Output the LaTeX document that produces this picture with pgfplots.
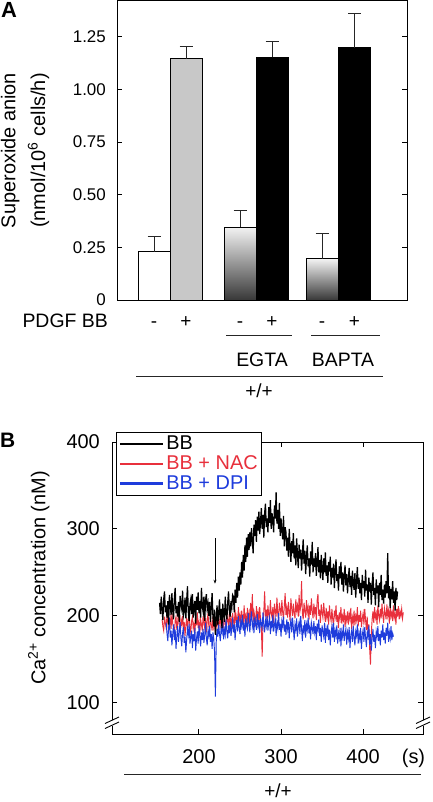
\documentclass[border=0pt]{standalone}
\usepackage{fontspec}
\setmainfont{Liberation Sans}
\usepackage{pgfplots}
\pgfplotsset{compat=1.18}
\usetikzlibrary{arrows.meta}
\definecolor{nacred}{HTML}{E8303C}
\definecolor{dpiblue}{HTML}{1E3CDC}
\definecolor{bargray}{HTML}{C8C8C8}
\begin{document}
\begin{tikzpicture}[x=1bp,y=1bp]
\useasboundingbox (0,0) rectangle (432,-802);
% ---------------- Panel A ----------------
\begin{axis}[
  at={(117bp,-300bp)}, anchor=south west, scale only axis,
  width=290bp, height=299bp,
  xmin=0, xmax=290, ymin=0, ymax=1.42,
  axis line style={line width=1bp},
  ytick={0,0.25,0.5,0.75,1,1.25},
  yticklabels={0,0.25,0.50,0.75,1.00,1.25},
  yticklabel style={font=\fontsize{17}{17}\selectfont, inner sep=0pt, xshift=-11bp},
  major tick length=5bp,
  ytick style={line width=1bp, black},
  xtick={37,69,123,155,205,237.5},
  xticklabels={-,+,-,+,-,+},
  xtick style={draw=none},
  xticklabel style={font=\fontsize{19}{19}\selectfont, anchor=base, yshift=-27bp},
  ylabel={Superoxide anion\\(nmol/10\textsuperscript{6} cells/h)},
  ylabel style={at={(axis description cs:-0.317,0.5)}, anchor=center, align=center, font=\fontsize{20}{30}\selectfont},
  error bars/error bar style={line width=1bp, black!85},
  error bars/error mark options={rotate=90, line width=1bp, black!85, mark size=6.5bp},
]
\addplot[ybar, bar width=32, bar shift=0pt, draw=black, line width=1bp, fill=white,
  error bars/.cd, y dir=plus, y explicit] coordinates {(37,0.23) +- (0,0.07)};
\addplot[ybar, bar width=32, bar shift=0pt, draw=black, line width=1bp, fill=bargray,
  error bars/.cd, y dir=plus, y explicit] coordinates {(69,1.145) +- (0,0.06)};
\addplot[ybar, bar width=32, bar shift=0pt, draw=black, line width=1bp, top color=black!5, bottom color=black!78,
  error bars/.cd, y dir=plus, y explicit] coordinates {(123,0.345) +- (0,0.08)};
\addplot[ybar, bar width=32, bar shift=0pt, draw=black, line width=1bp, fill=black,
  error bars/.cd, y dir=plus, y explicit] coordinates {(155,1.152) +- (0,0.077)};
\addplot[ybar, bar width=32, bar shift=0pt, draw=black, line width=1bp, top color=black!5, bottom color=black!78,
  error bars/.cd, y dir=plus, y explicit] coordinates {(205,0.195) +- (0,0.122)};
\addplot[ybar, bar width=32, bar shift=0pt, draw=black, line width=1bp, fill=black,
  error bars/.cd, y dir=plus, y explicit] coordinates {(237.5,1.197) +- (0,0.163)};
\end{axis}
\node[anchor=base west, font=\bfseries\fontsize{22}{22}\selectfont, inner sep=0pt] at (1,-18) {A};
\node[anchor=base east, font=\fontsize{19.5}{20}\selectfont, inner sep=0pt] at (108,-327) {PDGF BB};
\draw[line width=0.8bp, black!85] (226,-335) -- (292,-335);
\draw[line width=0.8bp, black!85] (311,-335) -- (380,-335);
\node[anchor=base, font=\fontsize{19.5}{20}\selectfont, inner sep=0pt] at (262,-366) {EGTA};
\node[anchor=base, font=\fontsize{19.5}{20}\selectfont, inner sep=0pt] at (343,-366) {BAPTA};
\draw[line width=0.8bp, black!85] (136,-376) -- (383,-376);
\node[anchor=base, font=\fontsize{19}{20}\selectfont, inner sep=0pt] at (259,-397) {+/+};
% ---------------- Panel B ----------------
\begin{axis}[
  at={(112bp,-734bp)}, anchor=south west, scale only axis,
  width=311bp, height=292bp,
  xmin=94, xmax=473, ymin=64, ymax=400,
  axis line style={line width=1bp},
  ytick={100,200,300,400}, xtick={200,300,400},
  /pgf/number format/assume math mode=true,
  ticklabel style={font=\fontsize{20}{20}\selectfont},
  yticklabel style={inner sep=0pt, xshift=-12bp},
  xticklabel style={anchor=base, yshift=-29bp},
  major tick length=5bp,
  tick style={line width=1bp, black},
  ylabel={Ca\textsuperscript{2+} concentration (nM)},
  ylabel style={at={(axis description cs:-0.235,0.534)}, anchor=center, font=\fontsize{20}{20}\selectfont},
  legend style={at={(axis description cs:0.013,1.034)}, anchor=north west, draw=black, line width=1bp,
    font=\fontsize{20}{20}\selectfont, inner xsep=2bp, inner ysep=1.5bp,
    nodes={inner ysep=1.2bp, text height=14bp, text depth=3.5bp},
    cells={anchor=west}},
  legend image code/.code={\draw[#1, line width=2.8bp] (0bp,0bp) -- (43bp,0bp);},
]
\addlegendimage{black}
\addlegendentry{BB}
\addlegendimage{nacred}
\addlegendentry{\textcolor{nacred}{BB + NAC}}
\addlegendimage{dpiblue}
\addlegendentry{\textcolor{dpiblue}{BB + DPI}}
% BB + NAC
\addplot[nacred, line width=0.95bp, forget plot] coordinates {
(155,196)(156,188)(157,183)(158,199)(159,192)(160,186)(161,201)(162,194)(163,180)(164,190)
(165,197)(166,185)(167,203)(168,191)(169,187)(170,178)(171,195)(172,199)(173,184)(174,192)
(175,206)(176,188)(177,181)(178,196)(179,190)(180,200)(181,186)(182,193)(183,177)(184,189)
(185,198)(186,184)(187,195)(188,202)(189,187)(190,181)(191,194)(192,199)(193,185)(194,191)
(195,180)(196,197)(197,189)(198,204)(199,186)(200,193)(201,179)(202,196)(203,190)(204,183)
(205,200)(206,192)(207,186)(208,198)(209,181)(210,194)(211,203)(212,188)(213,184)(214,197)
(215,190)(216,183)(217,199)(218,187)(219,194)(220,180)(221,196)(222,189)(223,201)(224,185)
(225,193)(226,198)(227,184)(228,205)(229,191)(230,187)(231,199)(232,193)(233,182)(234,201)
(235,195)(236,188)(237,204)(238,191)(239,197)(240,186)(241,203)(242,194)(243,189)(244,207)
(245,192)(246,199)(247,186)(248,210)(249,195)(250,201)(251,188)(252,206)(253,197)(254,191)
(255,212)(256,194)(257,200)(258,187)(259,209)(260,196)(261,203)(262,190)(263,215)(264,198)
(265,225)(266,193)(267,205)(268,199)(269,188)(270,211)(271,197)(272,204)(273,192)(274,210)
(275,196)(276,188)(277,153)(278,192)(279,205)(280,228)(281,199)(282,207)(283,194)(284,212)
(285,201)(286,196)(287,218)(288,203)(289,198)(290,210)(291,192)(292,214)(293,205)(294,199)
(295,221)(296,202)(297,196)(298,215)(299,207)(300,200)(301,218)(302,204)(303,196)(304,212)
(305,226)(306,201)(307,209)(308,198)(309,216)(310,205)(311,194)(312,220)(313,208)(314,200)
(315,214)(316,203)(317,197)(318,219)(319,206)(320,212)(321,199)(322,224)(323,205)(324,211)
(325,240)(326,203)(327,196)(328,215)(329,206)(330,198)(331,218)(332,204)(333,210)(334,195)
(335,212)(336,201)(337,220)(338,206)(339,197)(340,214)(341,203)(342,210)(343,195)(344,218)
(345,225)(346,200)(347,207)(348,192)(349,213)(350,204)(351,198)(352,215)(353,202)(354,193)
(355,209)(356,198)(357,205)(358,190)(359,212)(360,200)(361,194)(362,208)(363,196)(364,189)
(365,206)(366,199)(367,212)(368,193)(369,201)(370,186)(371,204)(372,197)(373,210)(374,191)
(375,200)(376,195)(377,208)(378,187)(379,199)(380,194)(381,205)(382,190)(383,202)(384,196)
(385,209)(386,185)(387,198)(388,192)(389,206)(390,189)(391,200)(392,195)(393,210)(394,188)
(395,201)(396,193)(397,206)(398,187)(399,197)(400,203)(401,190)(402,208)(403,195)(404,184)
(405,199)(406,176)(407,190)(408,162)(409,144)(410,180)(411,196)(412,205)(413,192)(414,210)
(415,198)(416,203)(417,190)(418,212)(419,200)(420,195)(421,208)(422,197)(423,214)(424,201)
(425,192)(426,209)(427,203)(428,196)(429,213)(430,200)(431,206)(432,191)(433,210)(434,199)
(435,204)(436,194)(437,212)(438,198)(439,203)(440,190)(441,208)(442,199)(443,211)(444,196)
(445,205)(446,200)(447,208)(448,197)(449,204)};
% BB + DPI
\addplot[dpiblue, line width=0.95bp, forget plot] coordinates {
(160,192)(161,180)(162,171)(163,186)(164,198)(165,175)(166,183)(167,166)(168,179)(169,190)
(170,172)(171,184)(172,162)(173,177)(174,188)(175,170)(176,181)(177,193)(178,174)(179,165)
(180,180)(181,187)(182,169)(183,176)(184,158)(185,173)(186,185)(187,178)(188,191)(189,168)
(190,175)(191,183)(192,163)(193,179)(194,171)(195,186)(196,160)(197,174)(198,182)(199,168)
(200,189)(201,177)(202,165)(203,181)(204,172)(205,185)(206,169)(207,178)(208,192)(209,174)
(210,166)(211,183)(212,177)(213,188)(214,170)(215,179)(216,162)(217,181)(218,174)(219,158)
(220,107)(221,170)(222,185)(223,176)(224,190)(225,179)(226,171)(227,186)(228,181)(229,194)
(230,173)(231,184)(232,178)(233,196)(234,182)(235,174)(236,189)(237,180)(238,193)(239,177)
(240,185)(241,198)(242,181)(243,190)(244,172)(245,187)(246,195)(247,182)(248,200)(249,186)
(250,179)(251,194)(252,188)(253,201)(254,183)(255,192)(256,176)(257,197)(258,189)(259,185)
(260,203)(261,190)(262,181)(263,196)(264,205)(265,187)(266,193)(267,180)(268,199)(269,191)
(270,184)(271,202)(272,188)(273,195)(274,180)(275,197)(276,190)(277,186)(278,204)(279,189)
(280,181)(281,195)(282,188)(283,200)(284,183)(285,192)(286,198)(287,179)(288,194)(289,187)
(290,201)(291,182)(292,190)(293,196)(294,177)(295,192)(296,186)(297,203)(298,184)(299,191)
(300,176)(301,194)(302,188)(303,199)(304,182)(305,190)(306,178)(307,196)(308,185)(309,193)
(310,174)(311,189)(312,195)(313,181)(314,198)(315,186)(316,172)(317,190)(318,184)(319,197)
(320,176)(321,188)(322,193)(323,179)(324,200)(325,185)(326,171)(327,189)(328,182)(329,195)
(330,175)(331,190)(332,184)(333,198)(334,180)(335,187)(336,173)(337,192)(338,186)(339,179)
(340,194)(341,181)(342,188)(343,172)(344,191)(345,184)(346,196)(347,177)(348,186)(349,170)
(350,189)(351,182)(352,176)(353,192)(354,169)(355,185)(356,179)(357,190)(358,172)(359,184)
(360,166)(361,181)(362,188)(363,175)(364,192)(365,170)(366,183)(367,177)(368,189)(369,168)
(370,180)(371,174)(372,186)(373,165)(374,182)(375,176)(376,190)(377,171)(378,179)(379,185)
(380,167)(381,181)(382,174)(383,187)(384,163)(385,178)(386,183)(387,170)(388,188)(389,175)
(390,166)(391,182)(392,177)(393,190)(394,168)(395,180)(396,173)(397,186)(398,162)(399,178)
(400,184)(401,170)(402,187)(403,175)(404,164)(405,181)(406,176)(407,189)(408,167)(409,179)
(410,160)(411,174)(412,185)(413,170)(414,178)(415,163)(416,182)(417,176)(418,188)(419,171)
(420,179)(421,166)(422,183)(423,175)(424,190)(425,172)(426,181)(427,168)(428,186)(429,177)
(430,192)(431,170)(432,181)(433,174)(434,188)(435,172)(436,180)(437,176)};
% BB
\addplot[black, line width=1.25bp, forget plot] coordinates {
(152,215)(153,202)(154,222)(155,207)(156,195)(157,219)(158,228)(159,204)(160,212)(161,198)
(162,217)(163,190)(164,224)(165,213)(166,201)(167,226)(168,206)(169,196)(170,220)(171,232)
(172,203)(173,211)(174,199)(175,216)(176,193)(177,223)(178,214)(179,208)(180,229)(181,200)
(182,205)(183,221)(184,197)(185,218)(186,234)(187,204)(188,194)(189,213)(190,219)(191,202)
(192,225)(193,198)(194,211)(195,217)(196,191)(197,222)(198,207)(199,227)(200,203)(201,217)
(202,198)(203,232)(204,211)(205,205)(206,222)(207,194)(208,218)(209,225)(210,208)(211,214)
(212,200)(213,216)(214,193)(215,210)(216,226)(217,199)(218,188)(219,207)(220,178)(221,196)
(222,212)(223,190)(224,203)(225,219)(226,195)(227,208)(228,186)(229,214)(230,201)(231,193)
(232,222)(233,204)(234,196)(235,215)(236,228)(237,206)(238,199)(239,217)(240,210)(241,224)
(242,222)(243,204)(244,230)(245,215)(246,238)(247,221)(248,245)(249,229)(250,250)(251,236)
(252,262)(253,244)(254,270)(255,252)(256,281)(257,262)(258,290)(259,268)(260,294)(261,276)
(262,296)(263,280)(264,301)(265,288)(266,272)(267,305)(268,292)(269,310)(270,285)(271,314)
(272,298)(273,320)(274,294)(275,308)(276,324)(277,300)(278,316)(279,290)(280,318)(281,329)
(282,302)(283,312)(284,296)(285,325)(286,307)(287,333)(288,300)(289,318)(290,310)(291,296)
(292,327)(293,312)(294,342)(295,306)(296,322)(297,300)(298,330)(299,292)(300,312)(301,298)
(302,288)(303,315)(304,280)(305,302)(306,296)(307,275)(308,290)(309,268)(310,300)(311,279)
(312,262)(313,286)(314,272)(315,295)(316,266)(317,281)(318,258)(319,289)(320,270)(321,255)
(322,282)(323,266)(324,276)(325,252)(326,271)(327,288)(328,260)(329,275)(330,248)(331,268)
(332,281)(333,257)(334,266)(335,245)(336,274)(337,259)(338,285)(339,250)(340,266)(341,256)
(342,272)(343,246)(344,262)(345,279)(346,250)(347,264)(348,243)(349,270)(350,255)(351,241)
(352,266)(353,250)(354,273)(355,246)(356,258)(357,238)(358,262)(359,251)(360,268)(361,236)
(362,255)(363,244)(364,260)(365,232)(366,252)(367,265)(368,240)(369,248)(370,229)(371,257)
(372,243)(373,262)(374,236)(375,250)(376,228)(377,246)(378,258)(379,235)(380,248)(381,226)
(382,243)(383,255)(384,233)(385,246)(386,224)(387,252)(388,238)(389,230)(390,249)(391,221)
(392,241)(393,256)(394,231)(395,244)(396,226)(397,238)(398,218)(399,247)(400,232)(401,240)
(402,222)(403,253)(404,229)(405,236)(406,215)(407,244)(408,228)(409,238)(410,213)(411,236)
(412,250)(413,224)(414,232)(415,212)(416,242)(417,226)(418,235)(419,210)(420,238)(421,224)
(422,247)(423,218)(424,230)(425,214)(426,236)(427,221)(428,240)(429,226)(430,272)(431,220)
(432,234)(433,209)(434,231)(435,219)(436,240)(437,215)(438,228)(439,206)(440,232)(441,218)
(442,228)};
\draw[line width=0.6bp, -{Stealth[length=4bp,width=3bp]}] (axis cs:219.5,289) -- (axis cs:219.5,237);
\end{axis}
% axis break marks
\foreach \xx in {112,423} {
  \fill[white] (\xx-2,-719.5) rectangle (\xx+2,-725.5);
  \draw[line width=0.9bp] (\xx-7,-723.5) -- (\xx+7,-717);
  \draw[line width=0.9bp] (\xx-7,-728.5) -- (\xx+7,-722);
}
\node[anchor=base west, font=\bfseries\fontsize{21}{21}\selectfont, inner sep=0pt] at (0,-447) {B};
\node[anchor=base, font=\fontsize{20}{20}\selectfont, inner sep=0pt] at (413.5,-763) {(s)};
\draw[line width=0.8bp, black!85] (124,-774) -- (421,-774);
\node[anchor=base, font=\fontsize{19}{20}\selectfont, inner sep=0pt] at (278,-797) {+/+};
\end{tikzpicture}
\end{document}
